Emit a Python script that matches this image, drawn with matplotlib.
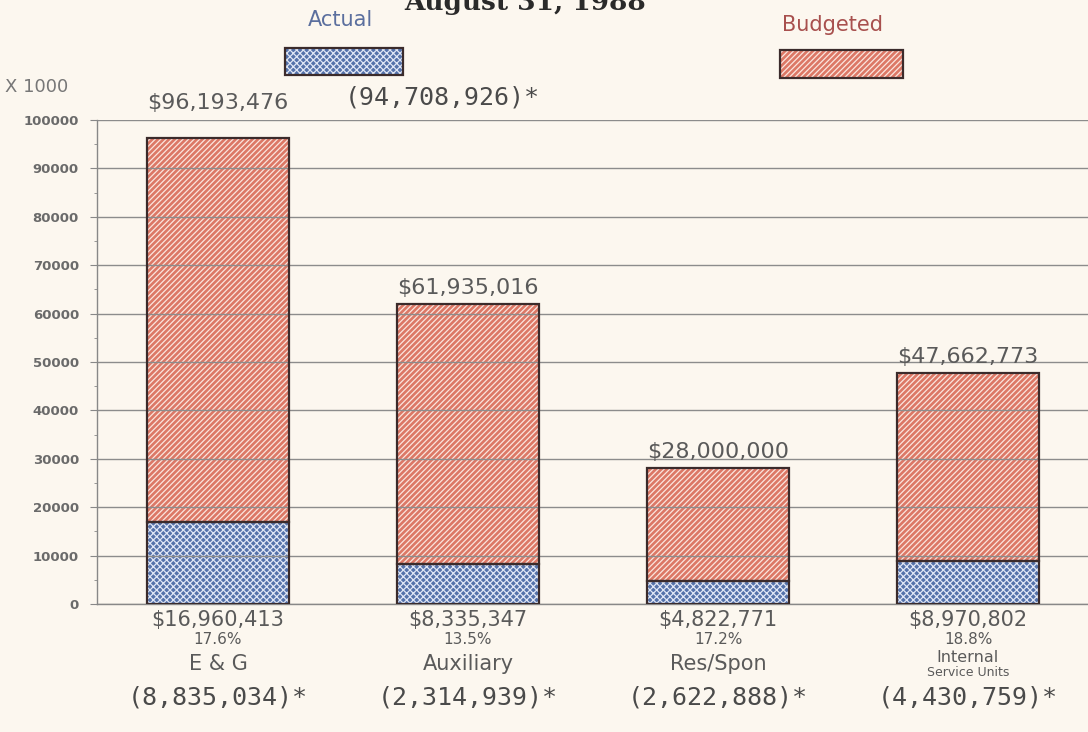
import matplotlib.pyplot as plt
from matplotlib.patches import Rectangle
import numpy as np

# Budget vs actual by fund group (dollars)
funds = ["E & G", "Auxiliary", "Res/Spon", "Internal\nService Units"]
budgeted = [96193476, 61935016, 28000000, 47662773]
actual = [16960413, 8335347, 4822771, 8970802]
prior = ["(8,835,034)*", "(2,314,939)*", "(2,622,888)*", "(4,430,759)*"]
total_prior = "(94,708,926)*"
yticks = list(range(0, 100001, 10000))

BG = "#fcf7ef"
BLUE = "#5572aa"
RED = "#dc7866"
EDGE = "#3b2b2b"
GREY = "#5a5a5a"

plt.rcParams["hatch.linewidth"] = 0.9

fig = plt.figure(figsize=(10.88, 7.32), dpi=100, facecolor=BG)
ax = fig.add_axes([97 / 1088, 1 - 604 / 732, 1 - 97 / 1088, 484 / 732])
ax.set_facecolor(BG)

x = np.arange(len(funds))
act_k = np.array(actual) / 1000
bud_k = np.array(budgeted) / 1000
w = 0.568

# filled hatched bars, then dark outlines on top
ax.bar(x, act_k, w, color=BLUE, edgecolor="#dfe6f5", hatch="xxxxx", linewidth=0, zorder=2)
ax.bar(x, bud_k - act_k, w, bottom=act_k, color=RED, edgecolor="#fbe6df",
       hatch="//////", linewidth=0, zorder=2)
ax.bar(x, act_k, w, fill=False, edgecolor=EDGE, linewidth=1.6, zorder=4)
ax.bar(x, bud_k - act_k, w, bottom=act_k, fill=False, edgecolor=EDGE,
       linewidth=1.6, zorder=4)

ax.set_xlim(-(218 - 97) / 250, (1088 - 218) / 250)
ax.set_ylim(0, 100000)
ax.set_yticks(yticks)
ax.set_yticks(range(5000, 100000, 10000), minor=True)
ax.set_yticklabels([str(v) for v in yticks], fontsize=9.5, color="#6a6a6a",
                   fontweight="bold")
ax.tick_params(axis="y", which="major", direction="out", length=5, color="#888", pad=8)
ax.tick_params(axis="y", which="minor", direction="out", length=2, color="#888")
ax.set_xticks([])
ax.yaxis.grid(True, color="#8c8c8c", linewidth=1.0, zorder=3)
ax.set_axisbelow(False)
for s in ["top", "right"]:
    ax.spines[s].set_visible(False)
for s in ["left", "bottom"]:
    ax.spines[s].set_color("#888")
    ax.spines[s].set_linewidth(1.0)

# budget totals above each bar
for xi, b in zip(x, budgeted):
    top = b / 1000 if b < 90000000 else 100000
    ax.annotate(f"${b:,}", (xi, top), xytext=(0, 12), textcoords="offset points",
                ha="center", va="center", fontsize=16, color=GREY)

# actual, percent, fund name and prior figure below the axis
for xi, a, b, name, p in zip(x, actual, budgeted, funds, prior):
    kw = dict(xycoords=("data", "axes fraction"), textcoords="offset pixels",
              ha="center", va="center", color=GREY)
    ax.annotate(f"${a:,}", (xi, 0), xytext=(0, -16), fontsize=15, **kw)
    ax.annotate(f"{a / b * 100:.1f}%", (xi, 0), xytext=(0, -36), fontsize=11, **kw)
    if "\n" in name:
        top_line, sub_line = name.split("\n")
        ax.annotate(top_line, (xi, 0), xytext=(0, -54), fontsize=11.5, **kw)
        ax.annotate(sub_line, (xi, 0), xytext=(0, -69), fontsize=9, **kw)
    else:
        ax.annotate(name, (xi, 0), xytext=(0, -60), fontsize=15, **kw)
    ax.annotate(p, (xi, 0), xytext=(0, -93), fontsize=18, family="DejaVu Sans Mono",
                xycoords=("data", "axes fraction"), textcoords="offset pixels",
                ha="center", va="center", color="#4a4a4a")

# header: clipped title line, legend swatches, units
fig.text(525 / 1088, 1 - 10 / 732, "August 31, 1988", ha="center", va="baseline",
         fontsize=19, fontweight="bold", family="DejaVu Serif", color="#2a2a2a")
fig.text(340 / 1088, 1 - 20 / 732, "Actual", ha="center", va="center",
         fontsize=15, color="#5b6f9e")
fig.text(832 / 1088, 1 - 25 / 732, "Budgeted", ha="center", va="center",
         fontsize=15, color="#a8504e")
for (x0, y0, x1, y1), fc, hc, h in [((285, 48, 403, 75), BLUE, "#dfe6f5", "xxxxx"),
                                    ((780, 50, 903, 78), RED, "#fbe6df", "//////")]:
    fig.patches.append(Rectangle((x0 / 1088, 1 - y1 / 732), (x1 - x0) / 1088,
                                 (y1 - y0) / 732, transform=fig.transFigure,
                                 facecolor=fc, edgecolor=hc, hatch=h, linewidth=0))
    fig.patches.append(Rectangle((x0 / 1088, 1 - y1 / 732), (x1 - x0) / 1088,
                                 (y1 - y0) / 732, transform=fig.transFigure,
                                 fill=False, edgecolor=EDGE, linewidth=1.6))
fig.text(5 / 1088, 1 - 87 / 732, "X 1000", ha="left", va="center",
         fontsize=13, color="#777")
fig.text(345 / 1088, 1 - 97 / 732, total_prior, ha="left", va="center",
         fontsize=18, family="DejaVu Sans Mono", color="#4a4a4a")

fig.savefig("out.png", dpi=100, facecolor=BG)
